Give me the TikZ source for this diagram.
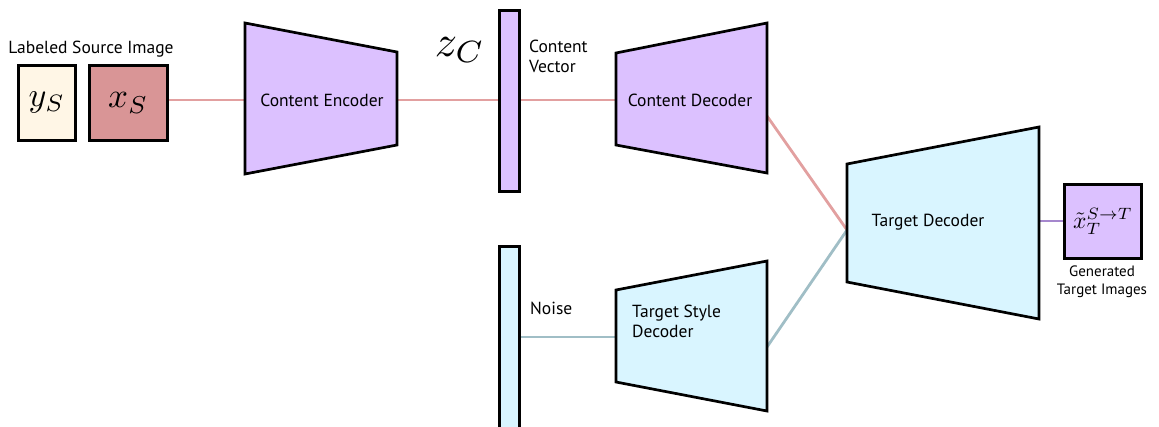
\documentclass[tikz,border=0pt]{standalone}
\usepackage{fontspec}
\setmainfont{PT Sans}
\pgfdeclarelayer{bg}
\pgfsetlayers{bg,main}
\begin{document}
\begin{tikzpicture}[x=1pt,y=-1pt,
  blk/.style={draw=black,line width=2.7pt,line join=miter},
  lab/.style={font=\fontsize{17.5}{20}\selectfont,inner sep=0pt,align=left},
  redln/.style={draw={rgb,255:red,226;green,160;blue,160},line width=2.8pt},
  blueln/.style={draw={rgb,255:red,160;green,190;blue,198},line width=2.8pt},
  purpln/.style={draw={rgb,255:red,165;green,135;blue,205},line width=2.8pt}]
\definecolor{cream}{RGB}{255,246,230}
\definecolor{rose}{RGB}{217,149,150}
\definecolor{lav}{RGB}{220,193,255}
\definecolor{cyanl}{RGB}{217,245,255}
\useasboundingbox (0,0) rectangle (1159,426);
\clip (0,0) rectangle (1159,426);
% source images
\node[lab] (srclab) at (91,49) {Labeled Source Image};
\node[blk,fill=cream,minimum width=57pt,minimum height=75pt,inner sep=0pt,anchor=north west] (ys) at (17,64) {\scalebox{3.4}{$y_S$}};
\node[blk,fill=rose,minimum width=78pt,minimum height=75pt,inner sep=0pt,anchor=north west] (xs) at (88,64) {\scalebox{3.5}{$x_S$}};
% content encoder
\draw[blk,fill=lav] (245,23) -- (397,52) -- (397,145) -- (245,174) -- cycle;
\coordinate (encL) at (245,100);
\coordinate (encR) at (397,100);
\node[lab] (enc) at (322,100) {Content Encoder};
% content vector
\node[blk,fill=lav,minimum width=20pt,minimum height=181pt,inner sep=0pt,anchor=north west] (zc) at (498,9) {};
\node[inner sep=0pt] (zclab) at (460,50) {\scalebox{4.4}{$z_C$}};
\node[lab,anchor=west] (cvlab) at (529,56) {Content\\Vector};
% content decoder
\draw[blk,fill=lav] (616,53) -- (767,23) -- (767,173) -- (616,145) -- cycle;
\coordinate (cdL) at (616,100);
\coordinate (cdR) at (767,116);
\node[lab] (cd) at (690,100) {Content Decoder};
% noise
\node[blk,fill=cyanl,minimum width=20pt,minimum height=200pt,inner sep=0pt,anchor=north west] (noise) at (498,245) {};
\node[lab,anchor=west] (noiselab) at (530,308) {Noise};
% target style decoder
\draw[blk,fill=cyanl] (616,290) -- (767,261) -- (767,411) -- (616,382) -- cycle;
\coordinate (sdL) at (616,337);
\coordinate (sdR) at (767,347);
\node[lab,anchor=west] (sd) at (632,321) {Target Style\\Decoder};
% target decoder
\draw[blk,fill=cyanl] (847,164) -- (1039,127) -- (1039,319) -- (847,282) -- cycle;
\coordinate (tdL) at (847,230);
\coordinate (tdR) at (1039,221);
\node[lab] (td) at (928,222) {Target Decoder};
% output
\node[blk,fill=lav,minimum width=77pt,minimum height=74pt,inner sep=0pt,anchor=north west] (out) at (1063,183) {\scalebox{2.35}{$\tilde{x}_T^{S\to T}$}};
\node[lab,font=\fontsize{15}{18}\selectfont,align=center,anchor=north] (outlab) at (1102,266) {Generated\\Target Images};
% connectors
\begin{pgfonlayer}{bg}
\draw[redln] (xs.east |- encL) -- (encL);
\draw[redln] (encR) -- (zc.west |- encR);
\draw[redln] (zc.east |- cdL) -- (cdL);
\draw[redln] (cdR) -- (tdL);
\draw[blueln] (noise.east |- sdL) -- (sdL);
\draw[blueln] (sdR) -- (tdL);
\draw[purpln] (tdR) -- (out.west |- tdR);
\end{pgfonlayer}
\end{tikzpicture}
\end{document}
